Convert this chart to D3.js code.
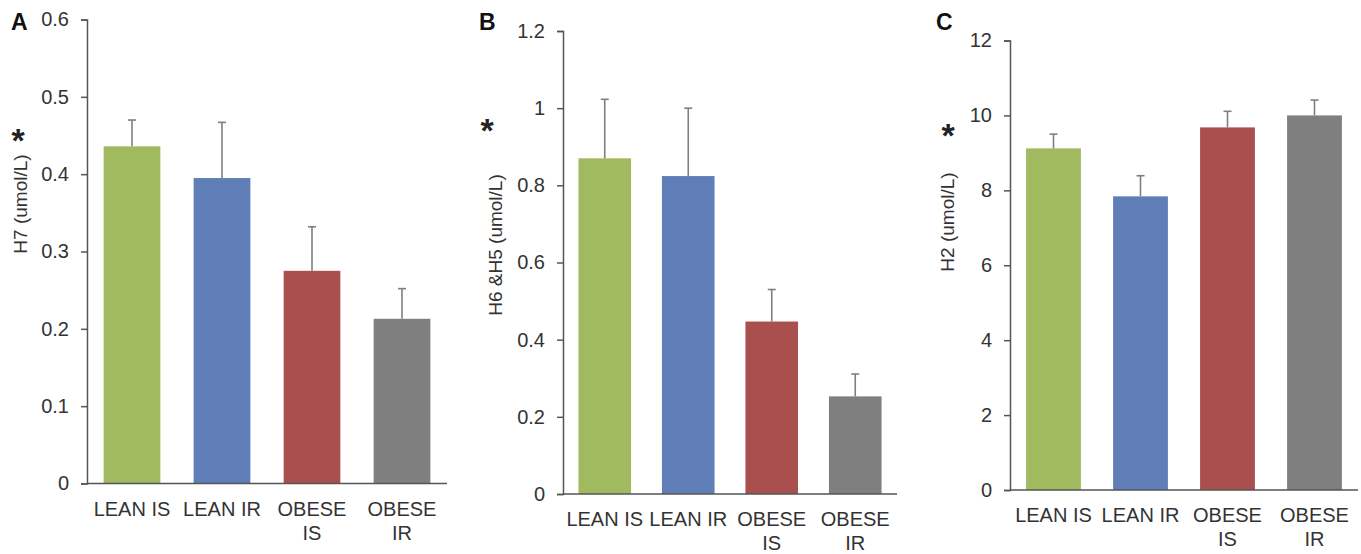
<!DOCTYPE html>
<html>
<head>
<meta charset="utf-8">
<script src="https://cdn.jsdelivr.net/npm/d3@7/dist/d3.min.js"></script>
<style>
  body { margin: 0; background: #fff; }
  svg { display: block; font-family: "Liberation Sans", Arial, sans-serif; }
</style>
</head>
<body>
<svg id="chart" width="1361" height="554"></svg>
<script>
// groups on the x axis (same for the three panels)
const categories = ["LEAN IS", "LEAN IR", "OBESE IS", "OBESE IR"];
const barColors = ["#a1b95f", "#5f7eb8", "#a9504f", "#7f7f7f"];

// panel A : H7
const h7Mean = [0.436, 0.395, 0.275, 0.213];
const h7Sem  = [0.034, 0.072, 0.057, 0.039];
const h7Ticks = [0, 0.1, 0.2, 0.3, 0.4, 0.5, 0.6];

// panel B : H6 & H5
const h6h5Mean = [0.870, 0.824, 0.447, 0.253];
const h6h5Sem  = [0.153, 0.176, 0.083, 0.058];
const h6h5Ticks = [0, 0.2, 0.4, 0.6, 0.8, 1, 1.2];

// panel C : H2
const h2Mean = [9.12, 7.84, 9.68, 10.0];
const h2Sem  = [0.38, 0.55, 0.43, 0.41];
const h2Ticks = [0, 2, 4, 6, 8, 10, 12];

const svg = d3.select("#chart");

// layout of each panel (pixel boxes only)
const panels = [
  { letter: "A", title: "H7 (umol/L)", mean: h7Mean, sem: h7Sem, ticks: h7Ticks,
    x0: 87, x1: 447, yTop: 19.5, yBot: 483.5, letterX: 11, titleX: 20, titleY: 204, starX: 18, starY: 133 },
  { letter: "B", title: "H6 &H5 (umol/L)", mean: h6h5Mean, sem: h6h5Sem, ticks: h6h5Ticks,
    x0: 563, x1: 897, yTop: 31, yBot: 494, letterX: 479, titleX: 495, titleY: 245, starX: 487, starY: 123 },
  { letter: "C", title: "H2 (umol/L)", mean: h2Mean, sem: h2Sem, ticks: h2Ticks,
    x0: 1010, x1: 1358, yTop: 40.5, yBot: 490, letterX: 936, titleX: 947, titleY: 222, starX: 948, starY: 128 }
];

const axisColor = "#555";
const textColor = "#333";

panels.forEach(p => {
  const g = svg.append("g");

  let x = d3.scaleBand()
    .domain(categories)
    .range([p.x0, p.x1])
    .paddingInner(0.37)
    .paddingOuter(0.185);

  let y = d3.scaleLinear()
    .domain([0, p.ticks[p.ticks.length - 1]])
    .range([p.yBot, p.yTop]);

  // bars
  g.selectAll(".bar")
    .data(p.mean)
    .join("rect")
    .attr("class", "bar")
    .attr("x", (d, i) => x(categories[i]))
    .attr("width", x.bandwidth())
    .attr("y", d => y(d))
    .attr("height", d => y(0) - y(d))
    .attr("fill", (d, i) => barColors[i]);

  // upper error bars
  const err = g.selectAll(".err")
    .data(p.mean)
    .join("g")
    .attr("class", "err")
    .attr("stroke", "#7f7f7f")
    .attr("stroke-width", 1.6);
  err.append("line")
    .attr("x1", (d, i) => x(categories[i]) + x.bandwidth() / 2)
    .attr("x2", (d, i) => x(categories[i]) + x.bandwidth() / 2)
    .attr("y1", d => y(d))
    .attr("y2", (d, i) => y(d + p.sem[i]));
  err.append("line")
    .attr("x1", (d, i) => x(categories[i]) + x.bandwidth() / 2 - 4)
    .attr("x2", (d, i) => x(categories[i]) + x.bandwidth() / 2 + 4)
    .attr("y1", (d, i) => y(d + p.sem[i]))
    .attr("y2", (d, i) => y(d + p.sem[i]));

  // y axis
  const yAxis = g.append("g")
    .attr("transform", `translate(${p.x0},0)`)
    .call(d3.axisLeft(y).tickValues(p.ticks).tickSize(6).tickSizeOuter(6).tickPadding(12)
      .tickFormat(d3.format("~g")));
  yAxis.select(".domain").attr("stroke", axisColor).attr("stroke-width", 1.5);
  yAxis.selectAll(".tick line").attr("stroke", axisColor).attr("stroke-width", 1.5);
  yAxis.selectAll(".tick text")
    .attr("font-size", 20)
    .attr("font-family", "'Liberation Sans', Arial, sans-serif")
    .attr("fill", textColor);

  // x axis baseline
  g.append("line")
    .attr("x1", p.x0).attr("x2", p.x1)
    .attr("y1", y(0)).attr("y2", y(0))
    .attr("stroke", axisColor)
    .attr("stroke-width", 1.5);

  // category labels (OBESE ones wrap to two lines)
  const lab = g.selectAll(".cat")
    .data(categories)
    .join("text")
    .attr("class", "cat")
    .attr("text-anchor", "middle")
    .attr("font-size", 20)
    .attr("fill", textColor)
    .attr("y", y(0) + 32);
  lab.each(function(d) {
    const t = d3.select(this);
    const cx = x(d) + x.bandwidth() / 2;
    const words = d.startsWith("OBESE") ? ["OBESE", d.slice(6)] : [d];
    words.forEach((w, k) => {
      t.append("tspan").attr("x", cx).attr("dy", k === 0 ? 0 : 24).text(w);
    });
  });

  // axis title
  g.append("text")
    .attr("transform", `translate(${p.titleX},${p.titleY}) rotate(-90)`)
    .attr("text-anchor", "middle")
    .attr("dominant-baseline", "central")
    .attr("font-size", 19)
    .attr("fill", textColor)
    .text(p.title);

  // significance star
  g.append("text")
    .attr("x", p.starX)
    .attr("y", p.starY + 19)
    .attr("text-anchor", "middle")
    .attr("font-size", 34)
    .attr("font-weight", "bold")
    .attr("fill", "#222")
    .text("*");

  // panel letter
  g.append("text")
    .attr("x", p.letterX)
    .attr("y", 30)
    .attr("font-size", 23)
    .attr("font-weight", "bold")
    .attr("fill", "#111")
    .text(p.letter);
});
</script>
</body>
</html>
